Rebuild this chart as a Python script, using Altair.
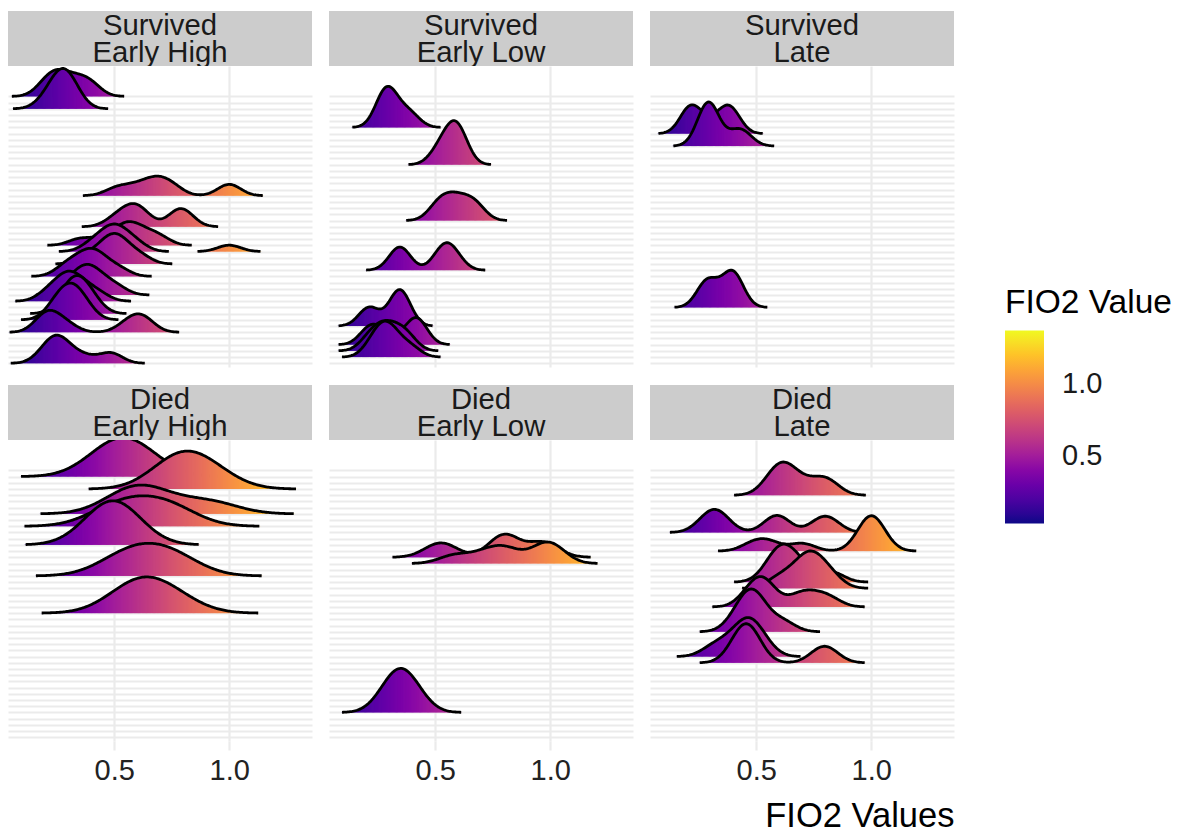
import altair as alt
import pandas as pd

# ---------------- data ----------------
panel_labels = ["Survived\nEarly High", "Survived\nEarly Low", "Survived\nLate",
                "Died\nEarly High", "Died\nEarly Low", "Died\nLate"]
panel_bw = [0.05, 0.045, 0.045, 0.12, 0.065, 0.055]
panel_scale = [6.5, 7.1, 7.1, 7.1, 7.1, 6.9]

surv_early_high = {
    44: [0.2, 0.22, 0.25, 0.27, 0.3, 0.34, 0.38, 0.4],
    42: [0.2, 0.24, 0.26, 0.27, 0.28, 0.29, 0.31, 0.33],
    28: [0.5, 0.56, 0.62, 0.66, 0.69, 0.72, 0.76, 1.0, 1.0],
    23: [0.5, 0.55, 0.58, 0.6, 0.63, 0.77, 0.79, 0.81],
    20: [0.35, 0.45, 0.52, 0.55, 0.57, 0.6, 0.65, 0.7],
    19: [0.4, 0.45, 0.48, 0.5, 0.52, 0.55, 0.6, 1.0],
    17: [0.385, 0.45, 0.48, 0.5, 0.52, 0.55, 0.614],
    15: [0.283, 0.33, 0.37, 0.4, 0.42, 0.45, 0.52],
    12: [0.3, 0.34, 0.37, 0.39, 0.41, 0.45, 0.51],
    11: [0.21, 0.26, 0.29, 0.31, 0.33, 0.37, 0.43],
    9: [0.28, 0.31, 0.33, 0.35, 0.37, 0.41],
    8: [0.24, 0.27, 0.3, 0.32, 0.34, 0.375],
    6: [0.19, 0.2, 0.22, 0.25, 0.3, 0.55, 0.59, 0.62, 0.64],
    1: [0.19, 0.22, 0.24, 0.25, 0.26, 0.28, 0.32, 0.38, 0.48, 0.49],
}
surv_early_low = {
    39: [0.273, 0.28, 0.285, 0.29, 0.3, 0.32, 0.38, 0.394],
    33: [0.51, 0.53, 0.56, 0.58, 0.59, 0.6, 0.6, 0.61],
    24: [0.502, 0.53, 0.56, 0.59, 0.62, 0.66, 0.685],
    16: [0.333, 0.345, 0.36, 0.52, 0.54, 0.56, 0.588],
    7: [0.21, 0.215, 0.33, 0.345, 0.35, 0.358],
    4: [0.21, 0.23, 0.3, 0.4, 0.42, 0.43],
    3: [0.21, 0.25, 0.28, 0.31, 0.35, 0.385],
    2: [0.225, 0.26, 0.28, 0.3, 0.33, 0.394],
}
surv_late = {
    38: [0.206, 0.215, 0.225, 0.3, 0.37, 0.38, 0.397],
    36: [0.27, 0.285, 0.295, 0.3, 0.31, 0.41, 0.447],
    10: [0.275, 0.29, 0.3, 0.38, 0.395, 0.4, 0.414],
}
died_early_high = {
    43: [0.45, 0.47, 0.5, 0.52, 0.55, 0.58, 0.61, 0.64],
    41: [0.744, 0.76, 0.78, 0.8, 0.85, 0.9, 0.944],
    37: [0.526, 0.56, 0.6, 0.62, 0.66, 0.75, 0.9, 0.944],
    35: [0.45, 0.5, 0.55, 0.6, 0.65, 0.7, 0.75, 0.79],
    32: [0.47, 0.49, 0.5, 0.5, 0.51],
    27: [0.5, 0.53, 0.57, 0.61, 0.65, 0.69, 0.73, 0.77, 0.8],
    21: [0.53, 0.57, 0.6, 0.62, 0.65, 0.69, 0.74, 0.785],
}
died_early_low = {
    30: [0.5, 0.55, 0.78, 0.8, 0.82, 0.95, 0.99],
    29: [0.58, 0.7, 0.78, 0.82, 0.95, 1.0, 1.015],
    5: [0.285, 0.33, 0.35, 0.37, 0.42],
}
died_late = {
    40: [0.564, 0.6, 0.62, 0.64, 0.7, 0.78, 0.818],
    34: [0.283, 0.32, 0.35, 0.58, 0.6, 0.78, 0.82],
    31: [0.49, 0.56, 0.7, 0.97, 1.0, 1.0, 1.0, 1.037],
    26: [0.565, 0.6, 0.62, 0.65, 0.7, 0.825],
    25: [0.6, 0.68, 0.72, 0.74, 0.77, 0.825],
    22: [0.47, 0.51, 0.53, 0.55, 0.68, 0.74, 0.814],
    18: [0.415, 0.46, 0.48, 0.49, 0.52, 0.615],
    14: [0.312, 0.38, 0.43, 0.46, 0.47, 0.49, 0.533],
    13: [0.415, 0.44, 0.46, 0.47, 0.49, 0.78, 0.814],
}
panel_ridges = [surv_early_high, surv_early_low, surv_late,
                died_early_high, died_early_low, died_late]

x_ticks = [0.5, 1.0]
patients = list(range(1, 45))

# ---------------- layout / style ----------------
W, H, SH = 304, 301, 55
XDOM = [0.038, 1.36]
YDOM = [0.4, 48.9]
CDOM = [0.032, 1.368]
GRID = "#EBEBEB"
FONT = "Liberation Sans"
REL_MIN = 0.003

cscale = alt.Scale(scheme="plasma", domain=CDOM, clamp=True)
legend = alt.Legend(title="FIO2 Value", orient="none", legendX=997, legendY=276,
                    direction="vertical", gradientLength=193, gradientThickness=39,
                    values=x_ticks, format=".1f", labelFontSize=29, labelColor="#1A1A1A",
                    labelOffset=18, titleFontSize=33.5, titleFontWeight="normal",
                    titleColor="#000000", titlePadding=10, gradientStrokeWidth=0)


def strip(label):
    sdf = pd.DataFrame({"label": [label]})
    bg = alt.Chart(sdf).mark_rect(color="#CCCCCC").encode(
        x=alt.value(0), x2=alt.value(W), y=alt.value(0), y2=alt.value(SH))
    tx = alt.Chart(sdf).mark_text(
        lineBreak="\n", fontSize=29.3, font=FONT, color="#1A1A1A", align="center",
        baseline="alphabetic", lineHeight=26.7, clip=True).encode(
        text="label:N", x=alt.value(W / 2), y=alt.value(24))
    return alt.layer(bg, tx).properties(width=W, height=SH)


def panel(i):
    ridges = panel_ridges[i]
    rows = [{"idx": k, "v": v} for k, vals in ridges.items() for v in vals]
    df = pd.DataFrame(rows)
    bw = panel_bw[i]
    bottom = i >= 3
    ax_kw = dict(values=x_ticks, format=".1f", grid=True, gridColor=GRID, gridWidth=2.2,
                 domain=False, labels=bottom, ticks=bottom)
    if bottom:
        ax_kw.update(tickColor=GRID, tickWidth=2.2, tickSize=9, labelFontSize=29,
                     labelColor="#222222", labelPadding=6, labelFont=FONT)
    if i == 5:
        ax_kw.update(titleFontSize=34.5, titleFontWeight="normal", titleColor="#000000",
                     titleAnchor="end", titlePadding=14, titleFont=FONT)
    xaxis = alt.Axis(**ax_kw)
    xtitle = "FIO2 Values" if i == 5 else None
    xs = alt.Scale(domain=XDOM, nice=False, zero=False)
    ys = alt.Scale(domain=YDOM, nice=False, zero=False)
    yaxis = alt.Axis(values=patients, labels=False, ticks=False, domain=False,
                     grid=True, gridColor=GRID, gridWidth=2)
    layers = []
    for k in sorted(ridges, reverse=True):
        fill = alt.Chart().transform_filter(
            f"datum.idx == {k} && isValid(datum.top)").mark_rule(
            strokeWidth=2.0, clip=True).encode(
            x=alt.X("x:Q", scale=xs, axis=xaxis, title=xtitle),
            y=alt.Y("idx:Q", scale=ys, axis=yaxis, title=None),
            y2="top:Q",
            color=alt.Color("x:Q", scale=cscale, legend=legend))
        line = alt.Chart().transform_filter(f"datum.idx == {k}").mark_line(
            color="black", strokeWidth=2.8, clip=True).encode(
            x=alt.X("x:Q", scale=xs, axis=xaxis, title=xtitle),
            y=alt.Y("top:Q", scale=ys, axis=yaxis, title=None),
            order="x:Q")
        layers += [fill, line]
    ch = alt.layer(*layers, data=df).transform_joinaggregate(
        lo="min(v)", hi="max(v)", groupby=["idx"]
    ).transform_density(
        "v", as_=["x", "density"], bandwidth=bw, extent=[0.0, 1.45], steps=291,
        groupby=["idx", "lo", "hi"]
    ).transform_filter(
        f"datum.x >= datum.lo - {3 * bw} && datum.x <= datum.hi + {3 * bw}"
    ).transform_joinaggregate(
        pmax="max(density)"
    ).transform_calculate(
        top=f"datum.density >= {REL_MIN} * datum.pmax ? datum.idx + datum.density / datum.pmax * {panel_scale[i]} : null"
    ).properties(width=W, height=H)
    return ch


cols = [alt.vconcat(strip(panel_labels[i]), panel(i), spacing=0)
        for i in range(6)]
row1 = alt.hconcat(*cols[:3], spacing=17)
row2 = alt.hconcat(*cols[3:], spacing=17)
chart = alt.vconcat(row1, row2, spacing=18).resolve_scale(
    color="shared").properties(
    padding={"left": 0, "top": 3, "right": 0, "bottom": 4}
).configure(font=FONT).configure_view(stroke=None)

chart.save("out.html", embed_options={"renderer": "svg", "actions": False})
